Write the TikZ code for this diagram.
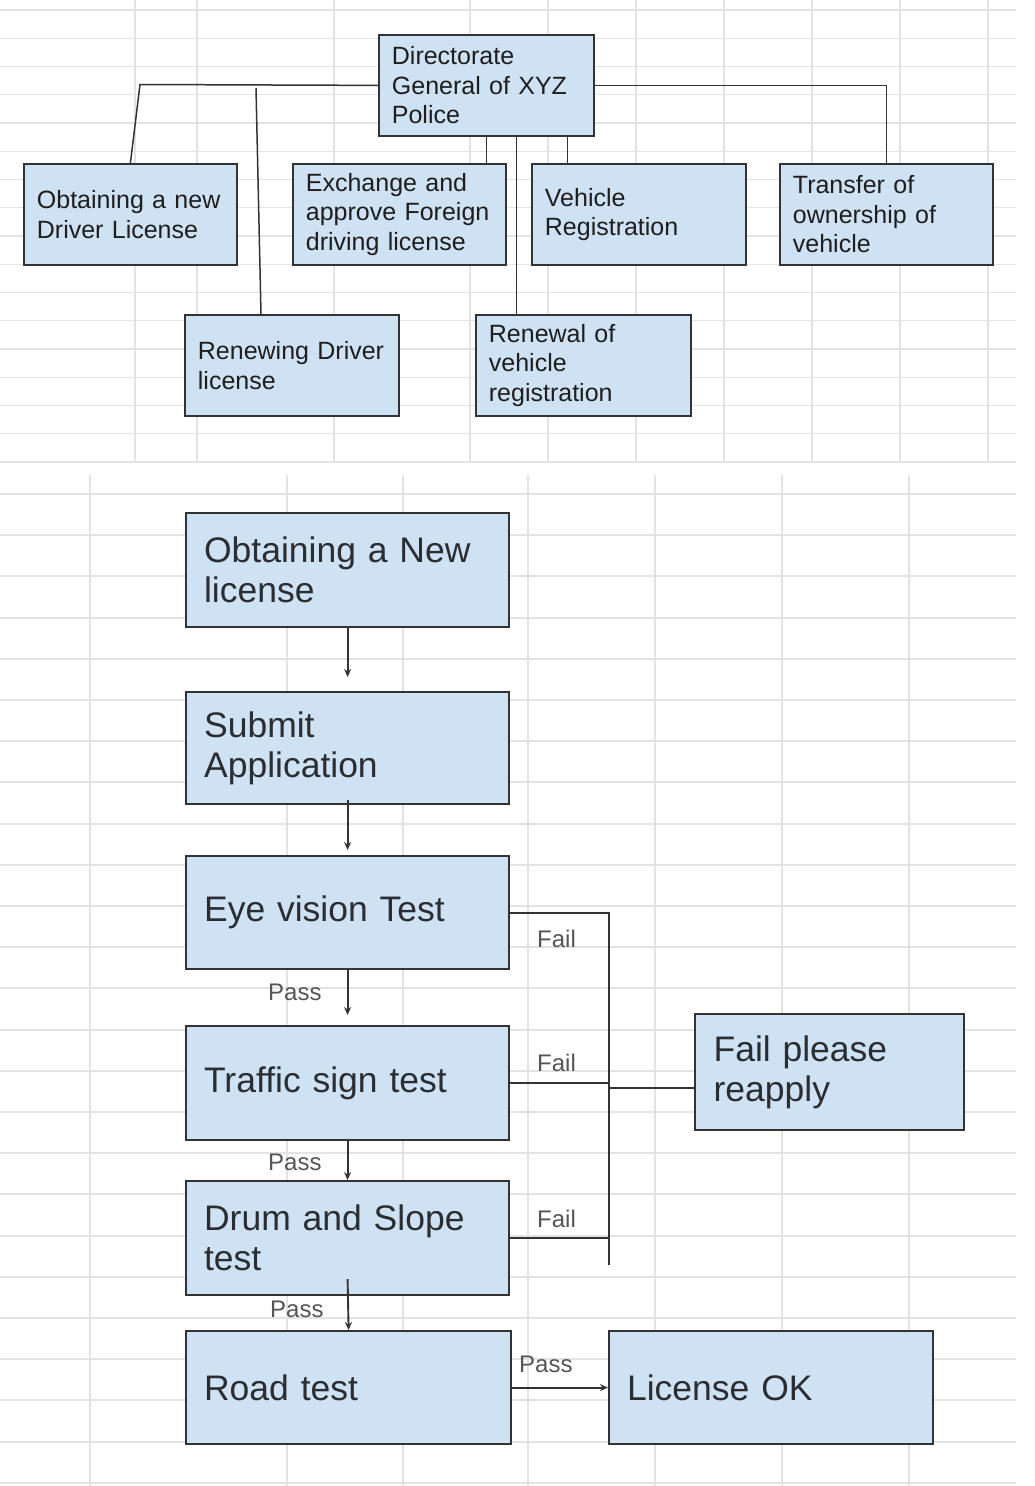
\documentclass[tikz,border=0pt]{standalone}
\usepackage{fontspec}
\setmainfont{Liberation Sans}
\usetikzlibrary{arrows.meta}
\definecolor{boxfill}{HTML}{CFE2F3}
\definecolor{gridc}{HTML}{E3E3E3}
\definecolor{linec}{HTML}{333333}
\definecolor{labc}{HTML}{555555}
\definecolor{txtc}{HTML}{1E1E1E}
\definecolor{txtb}{HTML}{2A2E33}
\begin{document}
\begin{tikzpicture}[x=1pt,y=-1pt,
  topbox/.style={draw=linec, line width=1.8pt, fill=boxfill, anchor=north west, align=left,
    inner xsep=13pt, inner ysep=0pt, font=\fontsize{25}{29.5}\selectfont, text=txtc},
  botbox/.style={draw=linec, line width=2.2pt, fill=boxfill, anchor=north west, align=left,
    inner xsep=18pt, inner ysep=0pt, font=\fontsize{35.5}{40}\selectfont, text=txtb},
  conn/.style={draw=linec, line width=1.5pt},
  flow/.style={draw=linec, line width=1.9pt},
  flowarrow/.style={flow, -{Stealth[length=8pt,width=7pt]}},
  lab/.style={anchor=base west, inner sep=0pt, text=labc, font=\fontsize{24}{28}\selectfont},
]
\useasboundingbox (0,0) rectangle (1034,1486);
\fill[white] (0,0) rectangle (1034,1486);

% grid, top sheet
\foreach \k in {0,...,16} \draw[gridc, line width=1.3pt] (0,{10+28.25*\k}) -- (1016,{10+28.25*\k});
\foreach \x in {135,197,334,470,548,636,724,812,900,988} \draw[gridc, line width=1.3pt] (\x,0) -- (\x,462);
% grid, bottom sheet
\foreach \k in {0,...,24} \draw[gridc, line width=2pt] (0,{494+41.2*\k}) -- (1016,{494+41.2*\k});
\foreach \x in {90,287,403,528,655,782,909} \draw[gridc, line width=2pt] (\x,475) -- (\x,1486);

% top boxes
\node[topbox, minimum width=215pt, minimum height=101pt, text width=189pt] (dir) at (378,34) {Directorate\\General of XYZ\\Police};
\node[topbox, minimum width=213pt, minimum height=101pt, text width=187pt] (obt) at (23,163) {Obtaining a new\\Driver License};
\node[topbox, minimum width=213pt, minimum height=101pt, text width=187pt] (exch) at (292,163) {Exchange and\\approve Foreign\\driving license};
\node[topbox, minimum width=214pt, minimum height=101pt, text width=188pt] (veh) at (531,163) {Vehicle\\Registration};
\node[topbox, minimum width=213pt, minimum height=101pt, text width=187pt] (trans) at (779,163) {Transfer of\\ownership of\\vehicle};
\node[topbox, minimum width=214pt, minimum height=101pt, text width=188pt] (renw) at (184,314) {Renewing Driver\\license};
\node[topbox, minimum width=215pt, minimum height=101pt, text width=189pt] (renv) at (475,314) {Renewal of\\vehicle\\registration};

% top connectors
\coordinate (c1) at (140,84.5);
\draw[conn] (dir.west) -- (c1) -- (obt.north);
\coordinate (c2) at (256,88);
\coordinate (c2e) at ([xshift=77pt]renw.north west);
\draw[conn] (c2) -- (c2e);
\draw[conn] (dir.south) -- (dir.south |- exch.north);
\coordinate (d2) at ([xshift=30pt]dir.south);
\draw[conn] (d2) -- (d2 |- renv.north);
\coordinate (d3) at ([xshift=81pt]dir.south);
\draw[conn] (d3) -- (d3 |- veh.north);
\draw[conn] (dir.east) -- (dir.east -| trans.north) -- (trans.north);

% bottom boxes
\node[botbox, minimum width=323pt, minimum height=114pt, text width=287pt] (b1) at (185,512) {Obtaining a New\\license};
\node[botbox, minimum width=323pt, minimum height=112pt, text width=287pt] (b2) at (185,691) {Submit\\Application};
\node[botbox, minimum width=323pt, minimum height=113pt, text width=287pt] (b3) at (185,855) {Eye vision Test};
\node[botbox, minimum width=323pt, minimum height=114pt, text width=287pt] (b4) at (185,1025) {Traffic sign test};
\node[botbox, minimum width=323pt, minimum height=114pt, text width=287pt] (b5) at (185,1180) {Drum and Slope\\test};
\node[botbox, minimum width=325pt, minimum height=113pt, text width=289pt] (b6) at (185,1330) {Road test};
\node[botbox, minimum width=324pt, minimum height=113pt, text width=288pt] (b7) at (608,1330) {License OK};
\node[botbox, minimum width=269pt, minimum height=116pt, text width=232pt, inner xsep=18.5pt] (b8) at (694,1013) {Fail please\\reapply};

% bottom arrows
\draw[flowarrow, shorten >=14pt] (b1.south) -- (b2.north);
\coordinate (s2) at ([yshift=5pt]b2.south);
\draw[flowarrow, shorten >=5pt] (s2) -- (b3.north);
\draw[flowarrow, shorten >=10pt] (b3.south) -- (b4.north);
\draw[flowarrow] (b4.south) -- (b5.north);
\coordinate (s5) at ([yshift=17pt]b5.south);
\draw[flowarrow] (s5) -- (b6.north);
\draw[flowarrow] (b6.east) -- (b7.west);

% fail connectors
\coordinate (bx) at (609,1265);
\draw[flow] (b3.east) -- (b3.east -| bx) -- (bx);
\draw[flow] (b4.east) -- (b4.east -| bx);
\draw[flow] (b5.east) -- (b5.east -| bx);
\coordinate (fj) at ([yshift=-16pt]b8.west);
\draw[flow] (fj -| bx) -- (fj);

% labels
\node[lab] (p1) at (268,1000) {Pass};
\node[lab] (p2) at (268,1170) {Pass};
\node[lab] (p3) at (270,1317) {Pass};
\node[lab] (p4) at (519,1372) {Pass};
\node[lab] (f1) at (537,947) {Fail};
\node[lab] (f2) at (537,1071) {Fail};
\node[lab] (f3) at (537,1227) {Fail};
\end{tikzpicture}
\end{document}
